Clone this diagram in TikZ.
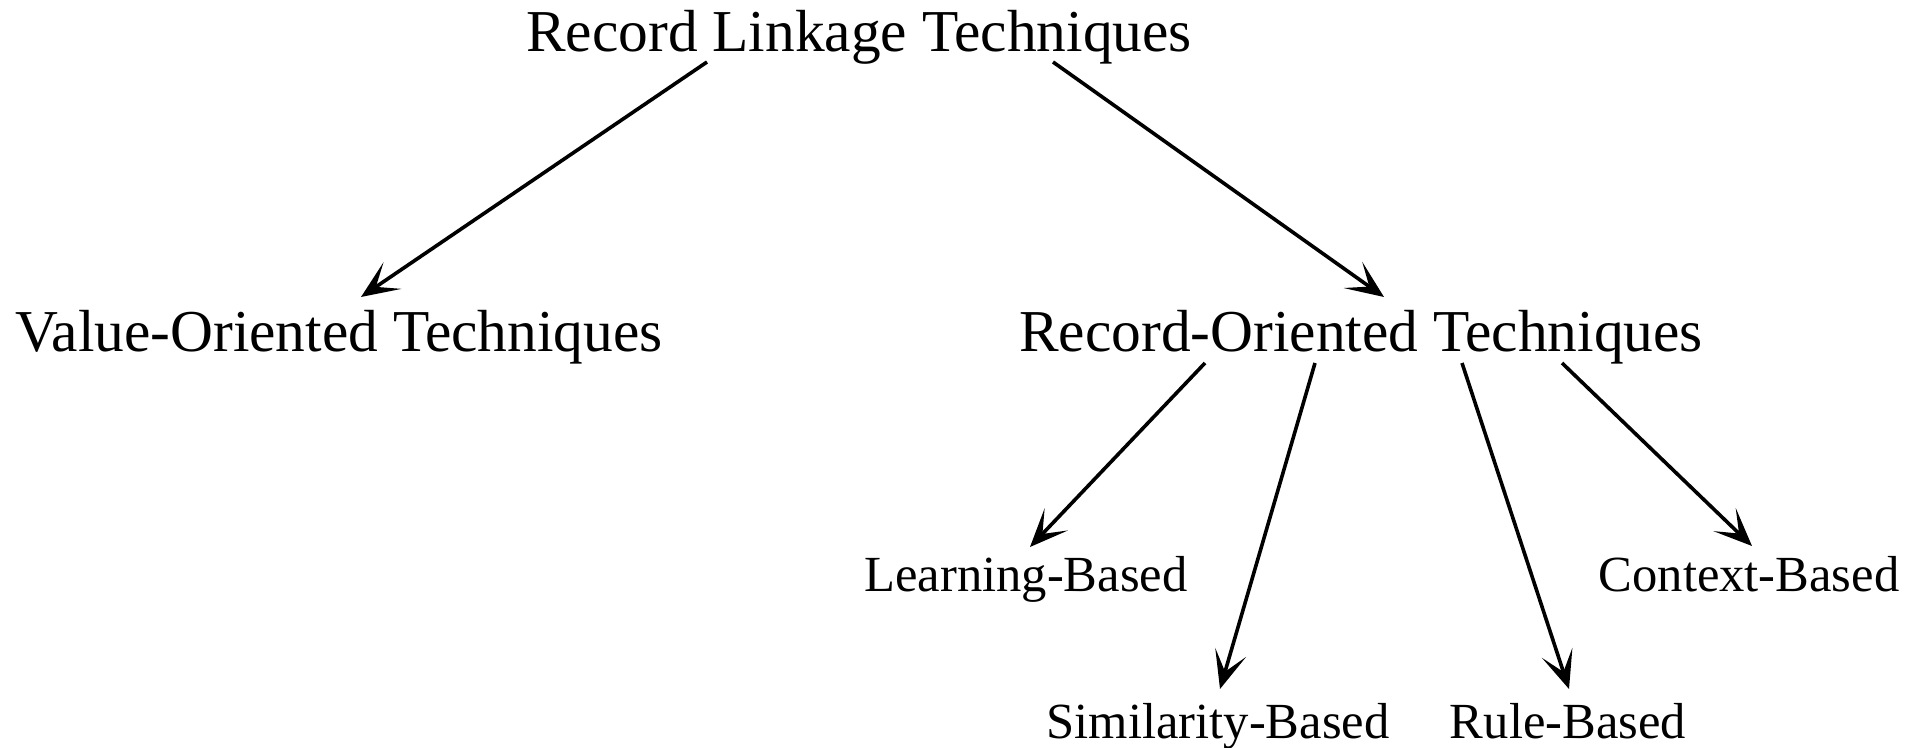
\documentclass[tikz,border=0pt]{standalone}
\usepackage{fontspec}
\setmainfont{Liberation Serif}
\usetikzlibrary{arrows.meta,calc}
\begin{document}
\begin{tikzpicture}[x=0.5pt,y=-0.5pt,
  big/.style={inner sep=0pt,anchor=base,font=\fontsize{29.7}{34}\selectfont},
  small/.style={inner sep=0pt,anchor=base,font=\fontsize{25.3}{30}\selectfont},
  link/.style={line width=1.8pt,-{Stealth[length=19pt,width=16pt,inset=10pt]}}]
\useasboundingbox (0,0) rectangle (1916,748);
\node[big] (root) at (859,52) {Record Linkage Techniques};
\node[big] (val) at (339,352) {Value-Oriented Techniques};
\node[big] (rec) at (1361,352) {Record-Oriented Techniques};
\node[small] (learn) at (1026,591) {Learning-Based};
\node[small] (ctx) at (1749,591) {Context-Based};
\node[small] (sim) at (1218,738) {Similarity-Based};
\node[small] (rule) at (1568,738) {Rule-Based};
\draw[link] ($(root.base)+(-152,10)$) -- ($(val.base)+(22,-55)$);
\draw[link] ($(root.base)+(194,10)$) -- ($(rec.base)+(23,-55)$);
\draw[link] ($(rec.base)+(-156,11)$) -- ($(learn.base)+(4,-44)$);
\draw[link] ($(rec.base)+(-46,11)$) -- ($(sim.base)+(2,-49)$);
\draw[link] ($(rec.base)+(101,11)$) -- ($(rule.base)+(1,-49)$);
\draw[link] ($(rec.base)+(201,11)$) -- ($(ctx.base)+(3,-45)$);
\end{tikzpicture}
\end{document}
